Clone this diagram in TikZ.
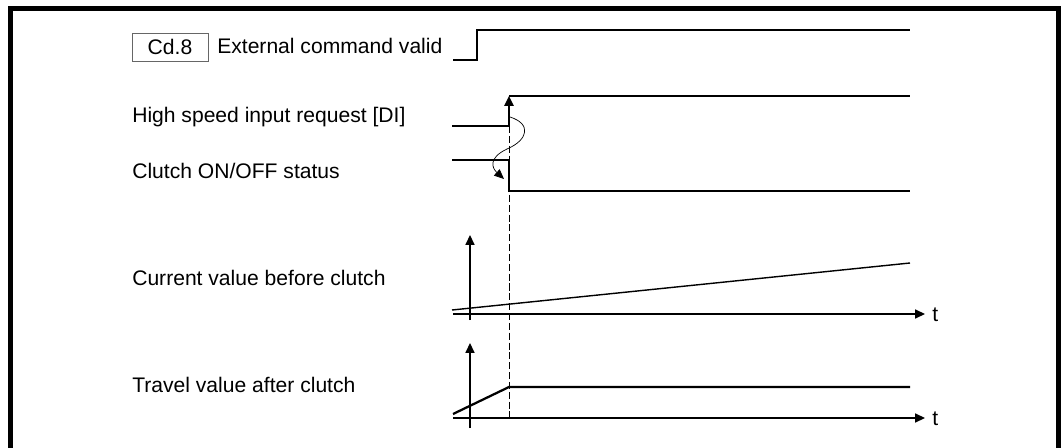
\documentclass[tikz,border=0pt]{standalone}
\usepackage{fontspec}
\setmainfont{Liberation Sans}
\usetikzlibrary{arrows.meta}

\tikzset{
  sig/.style={line width=1.6pt},
  axis/.style={line width=0.9pt,-{Triangle[length=7pt,width=6.4pt]}},
  lbl/.style={anchor=base west,inner sep=0pt,font=\fontsize{15}{18}\selectfont},
  tlbl/.style={anchor=west,inner sep=0pt,font=\fontsize{15}{18}\selectfont},
}

\begin{document}
\begin{tikzpicture}[x=0.025cm,y=-0.025cm]
\useasboundingbox (0,0) rectangle (1061,448);

% Cadre
\draw[line width=3.6pt] (10.5,448) -- (10.5,8.5) -- (1058.5,8.5) -- (1058.5,448);

% Labels
\node[draw=black!60,line width=0.6pt,minimum width=1.9cm,minimum height=0.7cm,inner sep=0pt,
      font=\fontsize{15}{18}\selectfont] (cd) at (170,47) {Cd.8};
\node[lbl] (ext) at (217,53) {External command valid};
\node[lbl] (hsi) at (132,122) {High speed input request [DI]};
\node[lbl] (clu) at (132,178) {Clutch ON/OFF status};
\node[lbl] (cur) at (132,285) {Current value before clutch};
\node[lbl] (trv) at (132,392) {Travel value after clutch};

% External command valid
\draw[sig] (453,60) -- (477,60) -- (477,30) -- (910,30);

% High speed input request
\coordinate (rise) at (509,96);
\draw[sig] (452,126) -- (509,126);
\draw[sig,-{Triangle[length=7pt,width=6.4pt]}] (509,127) -- (rise);
\draw[sig] (rise) -- (910,96);

% Clutch ON/OFF
\draw[sig] (452,160) -- (509,160) -- (509,191) -- (910,191);

% Retard
\draw[line width=0.5pt,-{Triangle[length=7pt,width=6pt]}]
  (510,117) .. controls (532,124) and (528,140) .. (507,149)
            .. controls (488,158) and (492,168) .. (504,179);

% Ligne pointillee
\draw[dash pattern=on 5pt off 2pt,line width=0.6pt] (509,126) -- (509,420);

% Current value before clutch
\coordinate (o1) at (470,314);
\draw[axis] (453,314) -- (925,314);
\draw[axis] (470,320) -- (470,235);
\draw[line width=1pt] (452,310) -- (910,263);
\node[tlbl] (t1) at (932,315) {t};

% Travel value after clutch
\coordinate (o2) at (470,418);
\draw[axis] (453,418) -- (925,418);
\draw[axis] (470,428) -- (470,343);
\draw[sig] (453,414) -- (509,387) -- (910,387);
\node[tlbl] (t2) at (932,419) {t};

\end{tikzpicture}
\end{document}
